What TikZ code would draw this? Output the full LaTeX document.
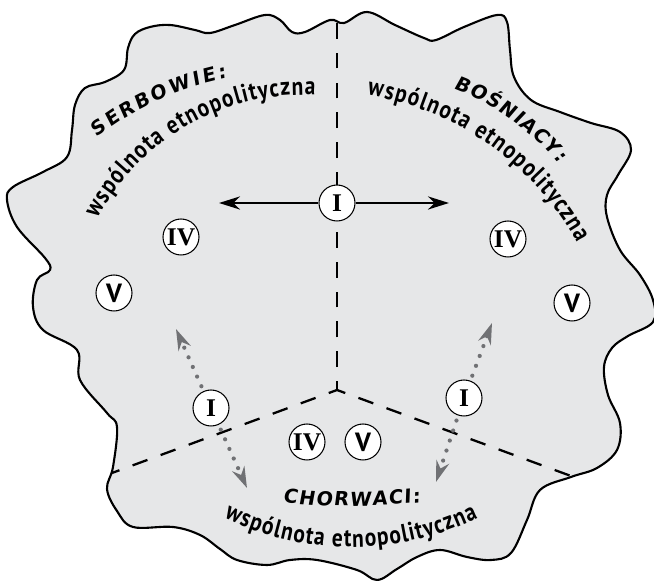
\documentclass[tikz,border=0pt]{standalone}
\usepackage{fontspec}
\usetikzlibrary{arrows.meta,calc,decorations.text}
\newfontfamily\labfont[FakeStretch=0.84]{PT Sans}
\newfontfamily\sansfont{PT Sans}
\newfontfamily\capfont[FakeSlant=0.12]{DejaVu Sans}
\newfontfamily\numfont{Liberation Serif}
\definecolor{blobgray}{RGB}{230,231,232}
\definecolor{dotgray}{RGB}{112,113,116}
\newcommand{\capset}{\capfont\bfseries\fontsize{11}{12}\selectfont}
\newcommand{\lowset}{\labfont\bfseries\fontsize{14.5}{16}\selectfont}

\begin{document}
\begin{tikzpicture}[x=0.02cm, y=0.02cm, >={Stealth[length=12pt, width=7.5pt]},
    numcirc/.style={circle, draw, fill=white, line width=0.6pt, minimum size=0.72cm, inner sep=0pt},
    romnum/.style={numcirc, font=\numfont\bfseries\fontsize{14.5}{15}\selectfont},
    sansnum/.style={numcirc, font=\sansfont\bfseries\fontsize{15}{15}\selectfont},
    border/.style={line width=1.3pt, dash pattern=on 9pt off 8pt, dash phase=4pt},
    dotarrow/.style={->, dotgray, line width=2.4pt, line cap=round, dash pattern=on 0pt off 6pt, dash phase=3pt}]
    \useasboundingbox (0,0) rectangle (654,581);
    % Area
    \draw [line width=1.2pt, fill=blobgray] plot [smooth cycle, tension=0.6] coordinates {
        (7,381) (13,394) (43,409) (67,424) (72,451) (75,476) (85,493) (105,499) (124,511)
        (128,533) (135,547) (150,554) (170,556) (195,551) (210,548) (235,556) (265,566)
        (280,561) (292,549) (305,549) (330,561) (344,558) (367,569) (395,556) (424,543)
        (436,541) (464,554) (497,566) (507,559) (510,531) (514,504) (531,481) (560,469)
        (591,458) (620,449) (631,431) (618,406) (607,386) (607,364) (620,331) (640,306)
        (653,281) (653,259) (628,245) (612,233) (604,214) (608,186) (620,158) (617,131)
        (597,113) (571,104) (540,91) (527,61) (511,28) (491,21) (467,24) (440,31)
        (417,24) (397,12) (377,1) (357,11) (317,21) (290,21) (267,16) (237,21) (220,32)
        (200,46) (173,54) (133,54) (117,70) (107,92) (113,114) (117,154) (107,168)
        (80,201) (77,231) (43,251) (33,274) (37,301) (50,311) (45,323) (17,354)};
    % Borders
    \coordinate (jc) at (337,191);
    \coordinate (topEnd) at (337,559);
    \coordinate (leftEnd) at (112,108);
    \coordinate (rightEnd) at (571,105);
    \draw [border] (jc) -- (topEnd);
    \draw [border] (jc) -- (leftEnd);
    \draw [border] (jc) -- (rightEnd);
    % Circles
    \foreach \nm/\x/\y/\t in {iC/337/378/I, ivL/181/344/IV, ivR/508/342/IV,
                              ivB/307/139/IV, iL/211/173/I, iR/464/183/I}
        \node [romnum] (\nm) at (\x,\y) {\t};
    \foreach \nm/\x/\y in {vL/114/288, vR/572/278, vB/363/139}
        \node [sansnum] (\nm) at (\x,\y) {V};
    % Arrows
    \coordinate (cLeft) at (219,378);
    \coordinate (cRight) at (449,378);
    \draw [->, line width=1.2pt] (iC) -- (cLeft);
    \draw [->, line width=1.2pt] (iC) -- (cRight);
    \coordinate (lUp) at (176,252);
    \coordinate (lDown) at (247,93);
    \coordinate (rUp) at (492,258);
    \coordinate (rDown) at (436,99);
    \draw [dotarrow] (iL) -- (lUp);
    \draw [dotarrow] (iL) -- (lDown);
    \draw [dotarrow] (iR) -- (rUp);
    \draw [dotarrow] (iR) -- (rDown);
    % Labels
    \path [decorate, decoration={text along path, text align={fit to path}, text={|\capset|SERBOWIE:}}]
        ($(284,208.5)+(128.6:300)$) arc [start angle=128.6, end angle=101, radius=300];
    \path [decorate, decoration={text along path, text align={fit to path}, text={|\lowset|wspólnota etnopolityczna}}]
        ($(303,253)+(152:233)$) arc [start angle=152, end angle=87, radius=233];
    \path [decorate, decoration={text along path, text align={fit to path}, text={|\capset|BOŚNIACY:}}]
        ($(366,258)+(69.4:250)$) arc [start angle=69.4, end angle=39.8, radius=250];
    \path [decorate, decoration={text along path, text align={fit to path}, text={|\lowset|wspólnota etnopolityczna}}]
        ($(320.3,196.8)+(80.8:293)$) arc [start angle=80.8, end angle=28.8, radius=293];
    \path [decorate, decoration={text along path, text align={fit to path}, text={|\capset|CHORWACI:}}]
        (282.7,78.3) .. controls (328.5,73.8) and (374.7,73.9) .. (420.5,78.5);
    \path [decorate, decoration={text along path, text align={fit to path}, text={|\lowset|wspólnota etnopolityczna}}]
        ($(351,324)+(-116:290)$) arc [start angle=-116, end angle=-64, radius=290];
\end{tikzpicture}
\end{document}
